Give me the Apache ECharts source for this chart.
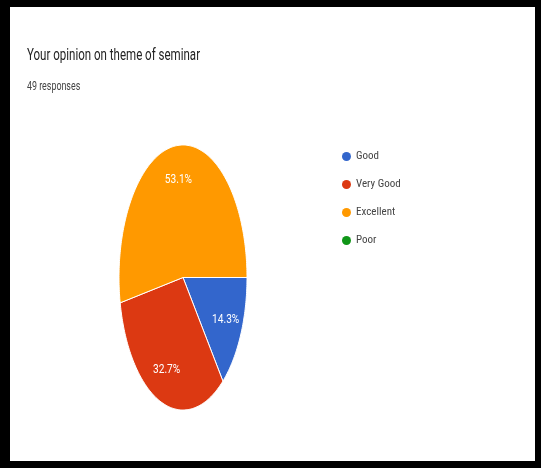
<!DOCTYPE html>
<html><head><meta charset="utf-8">
<script src="https://cdn.jsdelivr.net/npm/echarts@6/dist/echarts.min.js"></script>
<style>
html,body{margin:0;padding:0;background:#000;width:541px;height:468px;overflow:hidden;}
#chart{position:absolute;left:10px;top:7px;width:525px;height:454px;background:#fff;}
</style></head><body><div id="chart"></div>
<script>
const titleText = 'Your opinion on theme of seminar';
const subtitleText = '49 responses';
const categories = ['Good', 'Very Good', 'Excellent', 'Poor'];
const counts = [7, 16, 26, 0];

const total = counts.reduce((a, b) => a + b, 0);
const palette = ['#3366cc', '#dc3912', '#ff9900', '#109618'];
const PIE = { cx: 173, cy: 270.5, rx: 64, ry: 132.5, labelR: 0.74 };

function sliceRender(idx) {
  return function (params, api) {
    const v = api.value(0);
    if (!(v > 0)) return { type: 'group', children: [] };
    let before = 0;
    for (let k = 0; k < idx; k++) before += counts[k];
    const a0 = before / total * Math.PI * 2;
    const a1 = (before + v) / total * Math.PI * 2;
    const pts = [[PIE.cx, PIE.cy]];
    const n = Math.max(2, Math.ceil((a1 - a0) / (Math.PI / 180)));
    for (let s = 0; s <= n; s++) {
      const a = a0 + (a1 - a0) * s / n;
      pts.push([PIE.cx + PIE.rx * Math.cos(a), PIE.cy + PIE.ry * Math.sin(a)]);
    }
    const am = (a0 + a1) / 2;
    return {
      type: 'group',
      children: [
        { type: 'polygon', shape: { points: pts }, style: { fill: api.visual('color'), stroke: '#fff', lineWidth: 1 } },
        {
          type: 'text',
          x: PIE.cx + PIE.rx * PIE.labelR * Math.cos(am),
          y: PIE.cy + PIE.ry * PIE.labelR * Math.sin(am),
          scaleX: 0.78,
          style: {
            text: (v / total * 100).toFixed(1) + '%',
            fill: '#fff', fontSize: 13, fontFamily: 'Roboto',
            align: 'center', verticalAlign: 'middle'
          }
        }
      ]
    };
  };
}

const chart = echarts.init(document.getElementById('chart'), null, { renderer: 'canvas' });
chart.setOption({
  animation: false,
  color: palette,
  graphic: [
    { type: 'text', x: 17, y: 48.5, scaleX: 0.72,
      style: { text: titleText, fontSize: 16, fontFamily: 'Roboto', fill: '#222', verticalAlign: 'middle' } },
    { type: 'text', x: 17, y: 79.5, scaleX: 0.74,
      style: { text: subtitleText, fontSize: 12, fontFamily: 'Roboto', fill: '#444', verticalAlign: 'middle' } }
  ],
  legend: {
    orient: 'vertical', left: 327, top: 139,
    icon: 'path://M0,5a5,5 0 1,0 10,0a5,5 0 1,0 -10,0',
    itemWidth: 9, itemHeight: 12, itemGap: 17,
    selectedMode: false,
    textStyle: { fontFamily: '"Liberation Sans Narrow", "Roboto Condensed", Roboto', fontSize: 11, color: '#444' },
    data: categories
  },
  series: categories.map((name, i) => ({
    type: 'custom',
    name: name,
    coordinateSystem: 'none',
    itemStyle: { color: palette[i] },
    silent: true,
    data: [[counts[i]]],
    renderItem: sliceRender(i)
  }))
});
</script></body></html>
